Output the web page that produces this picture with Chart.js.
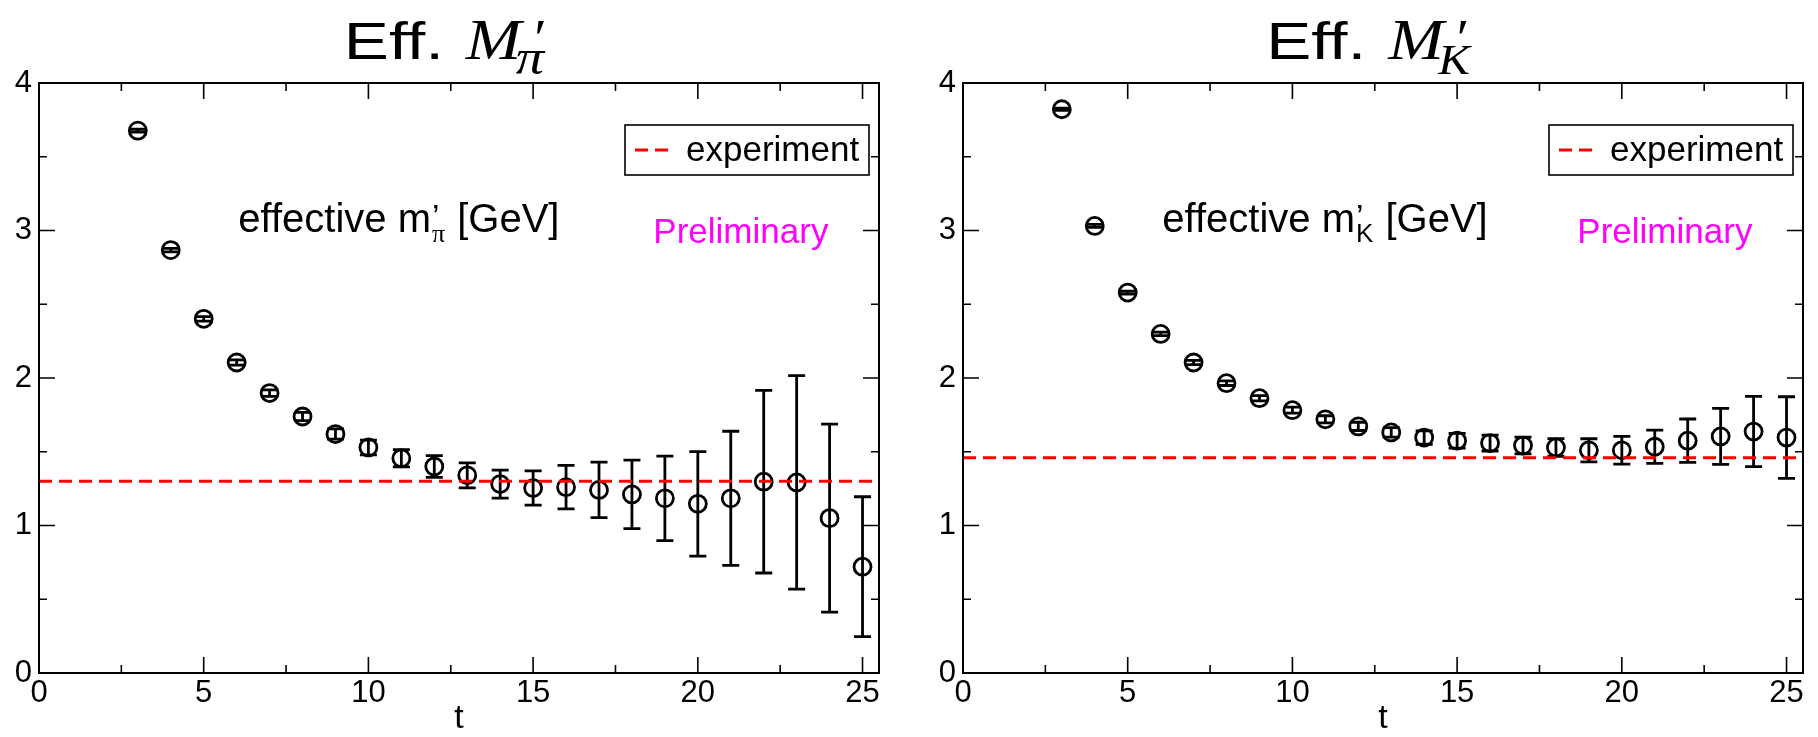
<!DOCTYPE html>
<html>
<head>
<meta charset="utf-8">
<script src="https://cdn.jsdelivr.net/npm/chart.js@4.4.1/dist/chart.umd.min.js"></script>
<style>
  html, body { margin: 0; padding: 0; background: #fff; }
  #wrap { position: relative; width: 1818px; height: 737px; }
  canvas { position: absolute; top: 0; }
</style>
</head>
<body>
<div id="wrap">
  <canvas id="pionChart" width="909" height="737" style="left:0"></canvas>
  <canvas id="kaonChart" width="909" height="737" style="left:909px"></canvas>
</div>
<script>
// time slices
const tValues = [3, 4, 5, 6, 7, 8, 9, 10, 11, 12, 13, 14, 15, 16, 17, 18, 19, 20, 21, 22, 23, 24, 25];

// effective pi' mass and its errors [GeV]
const piMass = [3.677, 2.867, 2.401, 2.105, 1.898, 1.739, 1.620, 1.529, 1.456, 1.400, 1.340, 1.281,
                1.254, 1.260, 1.241, 1.211, 1.184, 1.147, 1.184, 1.297, 1.292, 1.050, 0.721];
const piErr = [0.010, 0.012, 0.015, 0.018, 0.022, 0.028, 0.035, 0.050, 0.058, 0.074, 0.085, 0.095,
               0.116, 0.147, 0.188, 0.232, 0.287, 0.354, 0.455, 0.619, 0.724, 0.637, 0.474];

// effective K' mass and its errors [GeV]
const kMass = [3.822, 3.031, 2.579, 2.299, 2.105, 1.965, 1.863, 1.782, 1.720, 1.672, 1.631, 1.596,
               1.575, 1.559, 1.542, 1.529, 1.510, 1.510, 1.534, 1.575, 1.604, 1.637, 1.596];
const kErr = [0.008, 0.010, 0.010, 0.012, 0.014, 0.016, 0.018, 0.020, 0.024, 0.028, 0.032, 0.045,
              0.050, 0.054, 0.057, 0.060, 0.078, 0.094, 0.113, 0.147, 0.190, 0.238, 0.277];

// experimental values
const piExperiment = 1.30;
const kExperiment = 1.46;

// axis ticks
const xTicks = [0, 5, 10, 15, 20, 25];
const xMinor = [2.5, 7.5, 12.5, 17.5, 22.5];
const yTicks = [0, 1, 2, 3, 4];
const yMinor = [0.5, 1.5, 2.5, 3.5];

const SANS = '"Liberation Sans", Arial, Helvetica, sans-serif';
const SERIF = '"Liberation Serif", "Times New Roman", serif';

// box with inward ticks on all four sides
const frameTicks = {
  id: 'frameTicks',
  afterDatasetsDraw(chart) {
    const { ctx, chartArea: a, scales: { x, y } } = chart;
    ctx.save();
    ctx.strokeStyle = '#000';
    ctx.lineWidth = 2;
    ctx.strokeRect(a.left, a.top, a.right - a.left, a.bottom - a.top);
    ctx.lineWidth = 1.6;
    ctx.beginPath();
    const xt = (v, len) => {
      const px = x.getPixelForValue(v);
      ctx.moveTo(px, a.bottom); ctx.lineTo(px, a.bottom - len);
      ctx.moveTo(px, a.top); ctx.lineTo(px, a.top + len);
    };
    const yt = (v, len) => {
      const py = y.getPixelForValue(v);
      ctx.moveTo(a.left, py); ctx.lineTo(a.left + len, py);
      ctx.moveTo(a.right, py); ctx.lineTo(a.right - len, py);
    };
    xTicks.forEach(v => xt(v, 16));
    xMinor.forEach(v => xt(v, 8));
    yTicks.forEach(v => yt(v, 16));
    yMinor.forEach(v => yt(v, 8));
    ctx.stroke();
    ctx.restore();
  }
};

// vertical error bars with caps
const errorBars = {
  id: 'errorBars',
  beforeDatasetsDraw(chart) {
    const { ctx, scales: { x, y } } = chart;
    ctx.save();
    ctx.strokeStyle = '#000';
    ctx.lineWidth = 2.8;
    chart.data.datasets.forEach(ds => {
      if (!ds.errors) return;
      ds.data.forEach((p, i) => {
        const px = x.getPixelForValue(p.x);
        const lo = y.getPixelForValue(p.y - ds.errors[i]);
        const hi = y.getPixelForValue(p.y + ds.errors[i]);
        ctx.beginPath();
        ctx.moveTo(px, lo); ctx.lineTo(px, hi);
        ctx.moveTo(px - 8.5, lo); ctx.lineTo(px + 8.5, lo);
        ctx.moveTo(px - 8.5, hi); ctx.lineTo(px + 8.5, hi);
        ctx.stroke();
      });
    });
    ctx.restore();
  }
};

// stretched text piece (the title is wider than plain Helvetica/Times)
function stretchText(ctx, text, x, y, font, sx) {
  ctx.save();
  ctx.translate(x, y);
  ctx.scale(sx, 1);
  ctx.font = font;
  ctx.fillText(text, 0, 0);
  const w = ctx.measureText(text).width * sx;
  ctx.restore();
  return w;
}

// title, in-plot labels and legend
const panelText = {
  id: 'panelText',
  afterDraw(chart, args, opts) {
    const { ctx, chartArea: a, scales: { x, y } } = chart;
    ctx.save();
    ctx.fillStyle = '#000';
    ctx.textBaseline = 'alphabetic';

    // title: Eff. M'_sub
    ctx.font = opts.subFont;
    const wSub = ctx.measureText(opts.sub).width * 1.13;
    const total = 168 + wSub;
    const t0 = (a.left + a.right) / 2 - 13 - total / 2;
    const tb = 59;
    stretchText(ctx, 'Eff.', t0 - 4, tb, '52px ' + SANS, 1.3);
    stretchText(ctx, 'M', t0 + 118, tb, 'italic 58px ' + SERIF, 1.15);
    stretchText(ctx, '\u2032', t0 + 183, tb - 3, 'italic 52px ' + SERIF, 1.1);
    stretchText(ctx, opts.sub, t0 + 168, tb + 15, opts.subFont, 1.13);

    // effective m'_sub [GeV]
    let lx = x.getPixelForValue(6.05);
    const lb = y.getPixelForValue(2.99);
    ctx.font = '40px ' + SANS;
    ctx.fillText('effective m', lx, lb);
    lx += ctx.measureText('effective m').width;
    ctx.font = '34px ' + SANS;
    ctx.fillText('\u2019', lx + 1, lb - 4);
    ctx.font = opts.labelSubFont;
    ctx.fillText(opts.labelSub, lx + 1, lb + 10);
    lx += Math.max(ctx.measureText(opts.labelSub).width, 10) + 2;
    ctx.font = '40px ' + SANS;
    ctx.fillText(' [GeV]', lx, lb);

    // Preliminary
    ctx.fillStyle = '#ff00ff';
    ctx.font = '35px ' + SANS;
    ctx.fillText('Preliminary', x.getPixelForValue(18.65), y.getPixelForValue(2.915));

    // legend
    const ds = chart.data.datasets[0];
    const bw = 244, bh = 50;
    const bx = a.right - 10 - bw, by = a.top + 42;
    ctx.fillStyle = '#fff';
    ctx.fillRect(bx, by, bw, bh);
    ctx.strokeStyle = '#000';
    ctx.lineWidth = 1.6;
    ctx.strokeRect(bx, by, bw, bh);
    ctx.strokeStyle = ds.borderColor;
    ctx.lineWidth = ds.borderWidth;
    ctx.setLineDash(ds.borderDash);
    ctx.beginPath();
    ctx.moveTo(bx + 10, by + bh / 2);
    ctx.lineTo(bx + 43, by + bh / 2);
    ctx.stroke();
    ctx.setLineDash([]);
    ctx.fillStyle = '#000';
    ctx.font = '35px ' + SANS;
    ctx.textBaseline = 'middle';
    ctx.fillText(ds.label, bx + 61, by + bh / 2 + 1);
    ctx.restore();
  }
};

function makeChart(canvasId, mass, err, experiment, padLeft, padRight, text) {
  return new Chart(document.getElementById(canvasId), {
    type: 'scatter',
    data: {
      datasets: [
        {
          type: 'line',
          label: 'experiment',
          data: [{ x: 0, y: experiment }, { x: 25.5, y: experiment }],
          borderColor: '#ff0000',
          borderWidth: 3,
          borderDash: [13, 7],
          pointRadius: 0,
          fill: false
        },
        {
          label: 'data',
          data: tValues.map((t, i) => ({ x: t, y: mass[i] })),
          errors: err,
          pointStyle: 'circle',
          pointRadius: 8.5,
          borderWidth: 2.8,
          borderColor: '#000',
          backgroundColor: 'rgba(0,0,0,0)'
        }
      ]
    },
    options: {
      responsive: false,
      animation: false,
      devicePixelRatio: 1,
      layout: { padding: { left: padLeft, right: padRight, top: 83, bottom: 0 } },
      plugins: {
        legend: { display: false },
        tooltip: { enabled: false },
        panelText: text
      },
      scales: {
        x: {
          type: 'linear',
          min: 0,
          max: 25.5,
          afterBuildTicks: s => { s.ticks = xTicks.map(v => ({ value: v })); },
          afterFit: s => { s.height = 64; },
          ticks: { color: '#000', font: { size: 31, family: SANS }, padding: 2, maxRotation: 0 },
          grid: { display: false, drawTicks: false },
          border: { display: false },
          title: { display: true, text: 't', color: '#000', font: { size: 34, family: SANS }, padding: { top: 0, bottom: -2 } }
        },
        y: {
          type: 'linear',
          min: 0,
          max: 4,
          afterBuildTicks: s => { s.ticks = yTicks.map(v => ({ value: v })); },
          afterFit: s => { s.width = 39; },
          ticks: { color: '#000', font: { size: 31, family: SANS }, padding: 7 },
          grid: { display: false, drawTicks: false },
          border: { display: false }
        }
      }
    },
    plugins: [errorBars, frameTicks, panelText]
  });
}

makeChart('pionChart', piMass, piErr, piExperiment, 0, 30,
  { sub: '\u03c0', subFont: 'italic 50px ' + SERIF, labelSub: '\u03c0', labelSubFont: '26px ' + SERIF });
makeChart('kaonChart', kMass, kErr, kExperiment, 15, 15,
  { sub: 'K', subFont: 'italic 42px ' + SERIF, labelSub: 'K', labelSubFont: '26px ' + SANS });
</script>
</body>
</html>
